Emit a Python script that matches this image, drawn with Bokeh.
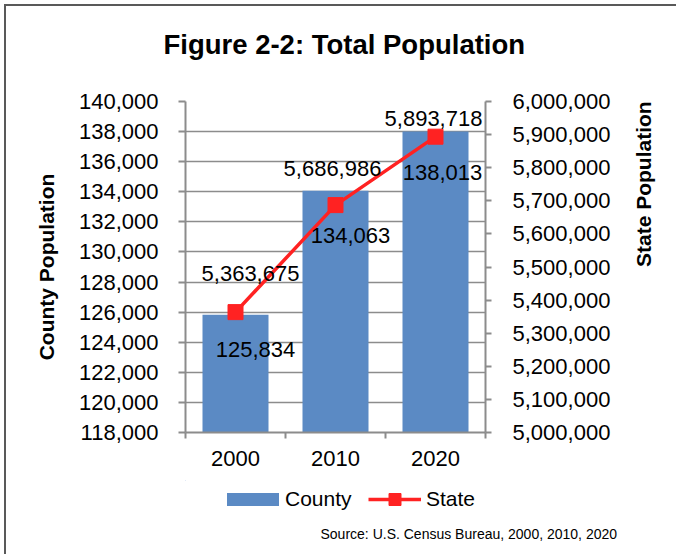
import math
from bokeh.plotting import figure
from bokeh.layouts import column
from bokeh.core.properties import value
from bokeh.models import (Range1d, LinearAxis, FixedTicker, SingleIntervalTicker,
                          NumeralTickFormatter, ColumnDataSource, LabelSet, Title,
                          Legend, LegendItem, InlineStyleSheet)
from bokeh.embed import file_html
from bokeh.resources import INLINE

# ---- data ----
years = ["2000", "2010", "2020"]
county = [125834, 134063, 138013]
state = [5363675, 5686986, 5893718]
county_range = (118000, 140000)
state_range = (5000000, 6000000)
county_tick_step = 2000
state_tick_step = 100000
series_names = ["County", "State"]
source_note = "Source: U.S. Census Bureau, 2000, 2010, 2020"

# ---- layout / style ----
BLUE = "#5B8AC4"
RED = "#FF2222"
GRID = "#8C8C8C"
FONT = "Liberation Sans"

# label offsets (screen px) relative to bar tops / points
county_dx = [20, 15, 7]
county_dy = [-35, -45, -41]
state_dx = [15, -3, -2]
state_dy = [39, 37, 18]

xs = [i + 0.5 for i in range(len(years))]
src = ColumnDataSource(dict(
    x=xs, county=county, state=state,
    county_txt=[f"{v:,}" for v in county],
    state_txt=[f"{v:,}" for v in state],
    cdx=county_dx, cdy=county_dy, sdx=state_dx, sdy=state_dy,
))

W = 670
BL, BR = 179, 191
p = figure(width=W, height=474, output_backend="svg", toolbar_location=None,
           x_range=Range1d(0, len(years)), y_range=Range1d(*county_range),
           min_border_left=BL, min_border_right=BR, min_border_top=95,
           min_border_bottom=48)
p.outline_line_color = None
p.background_fill_color = "white"
p.border_fill_color = "white"
p.extra_y_ranges = {"state": Range1d(*state_range)}

# title (outermost in the "above" stack), with a spacer between it and the plot
p.add_layout(Title(text=" ", text_font_size="2px", standoff=38), "above")
p.title.text = "Figure 2-2: Total Population"
p.title.align = "left"
p.title.offset = -22
p.title.standoff = 0
p.title.text_font = FONT
p.title.text_font_style = "bold"
p.title.text_font_size = "27.5px"
p.title.text_color = "black"

bar_style = dict(fill_color=BLUE, line_color=None)
line_style = dict(line_color=RED, line_width=3.5)
mark_style = dict(marker="square", fill_color=RED, line_color=RED)

bars = p.vbar(x="x", top="county", bottom=county_range[0], width=0.66,
              source=src, **bar_style)
ln = p.line(x="x", y="state", source=src, y_range_name="state", **line_style)
sq = p.scatter(x="x", y="state", source=src, y_range_name="state", size=15, **mark_style)

# axes
xa = p.xaxis[0]
xa.ticker = FixedTicker(ticks=xs, minor_ticks=list(range(len(years) + 1)))
xa.major_label_overrides = {x: y for x, y in zip(xs, years)}
ya = p.yaxis[0]
ya.ticker = SingleIntervalTicker(interval=county_tick_step)
ya.formatter = NumeralTickFormatter(format="0,0")
ra = LinearAxis(y_range_name="state", ticker=SingleIntervalTicker(interval=state_tick_step),
                formatter=NumeralTickFormatter(format="0,0"))
p.add_layout(ra, "right")

for ax in (xa, ya, ra):
    ax.axis_line_color = GRID
    ax.axis_line_width = 2
    ax.major_tick_line_color = GRID
    ax.major_tick_line_width = 2
    ax.minor_tick_line_color = GRID
    ax.minor_tick_line_width = 2
    ax.major_tick_in = 0
    ax.minor_tick_in = 0
    ax.major_label_text_font = FONT
    ax.major_label_text_font_size = "22px"
    ax.major_label_text_color = "black"
    ax.axis_label_text_font = FONT
    ax.axis_label_text_font_style = "bold"
    ax.axis_label_text_font_size = "21px"
    ax.axis_label_text_color = "black"
xa.major_tick_out = 0
xa.minor_tick_out = 6
xa.major_label_standoff = 12
ya.major_tick_out = 7
ya.minor_tick_out = 0
ya.major_label_standoff = 20
ya.axis_label = "County Population"
ya.axis_label_standoff = 18
ra.major_tick_out = 6
ra.minor_tick_out = 0
ra.major_label_standoff = 21
ra.axis_label = "State Population"
ra.axis_label_standoff = 30
if "axis_label_orientation" in ra.properties():
    ra.axis_label_orientation = math.pi / 2

p.xgrid.visible = False
p.ygrid.grid_line_color = GRID
p.ygrid.grid_line_width = 1.6

# data labels
p.add_layout(LabelSet(x="x", y="county", text="county_txt", source=src,
                      x_offset="cdx", y_offset="cdy", text_align="center",
                      text_baseline="middle", text_font=value(FONT),
                      text_font_size="22px", text_color="black"))
p.add_layout(LabelSet(x="x", y="state", text="state_txt", source=src,
                      y_range_name="state",
                      x_offset="sdx", y_offset="sdy", text_align="center",
                      text_baseline="middle", text_font=value(FONT),
                      text_font_size="22px", text_color="black"))

# ---- legend + source strip ----
H2 = 74
q = figure(width=W, height=H2, output_backend="svg", toolbar_location=None,
           x_range=Range1d(10, 310), y_range=Range1d(0, 30),
           x_axis_type=None, y_axis_type=None,
           min_border_left=BL, min_border_right=BR, min_border_top=0,
           min_border_bottom=0)
q.outline_line_color = None
q.grid.visible = False
q.background_fill_color = "white"
q.border_fill_color = "white"
# legend key renderers: same data, outside this strip's ranges (nothing drawn)
kb = q.vbar(x="x", top="county", bottom=county_range[0], width=0.66, source=src, **bar_style)
kl = q.line(x="x", y="state", source=src, **line_style)
ks = q.scatter(x="x", y="state", source=src, size=15, **mark_style)

common = dict(orientation="horizontal", border_line_color=None, background_fill_alpha=0,
              padding=0, margin=0, label_text_font=FONT, label_text_font_size="21px",
              label_text_color="black")
q.add_layout(Legend(items=[LegendItem(label=series_names[0], renderers=[kb])],
                    location=(35, 3), label_standoff=0, glyph_width=65,
                    glyph_height=16, **common))
q.add_layout(Legend(items=[LegendItem(label=series_names[1], renderers=[kl, ks])],
                    location=(183, 0), label_standoff=5, glyph_width=53,
                    glyph_height=30, **common))
q.add_layout(Title(text=source_note, align="left", offset=135, standoff=22,
                   vertical_align="top", text_font=FONT, text_font_style="normal",
                   text_font_size="14px", text_color="black"), "below")

lay = column(p, q, spacing=0)
lay.stylesheets = [InlineStyleSheet(css=":host { border-top: 2px solid #595959; border-left: 2px solid #595959; border-right: none; border-bottom: none; margin: 4px 0 0 4px; }")]

open("out.html", "w").write(file_html(lay, INLINE))
